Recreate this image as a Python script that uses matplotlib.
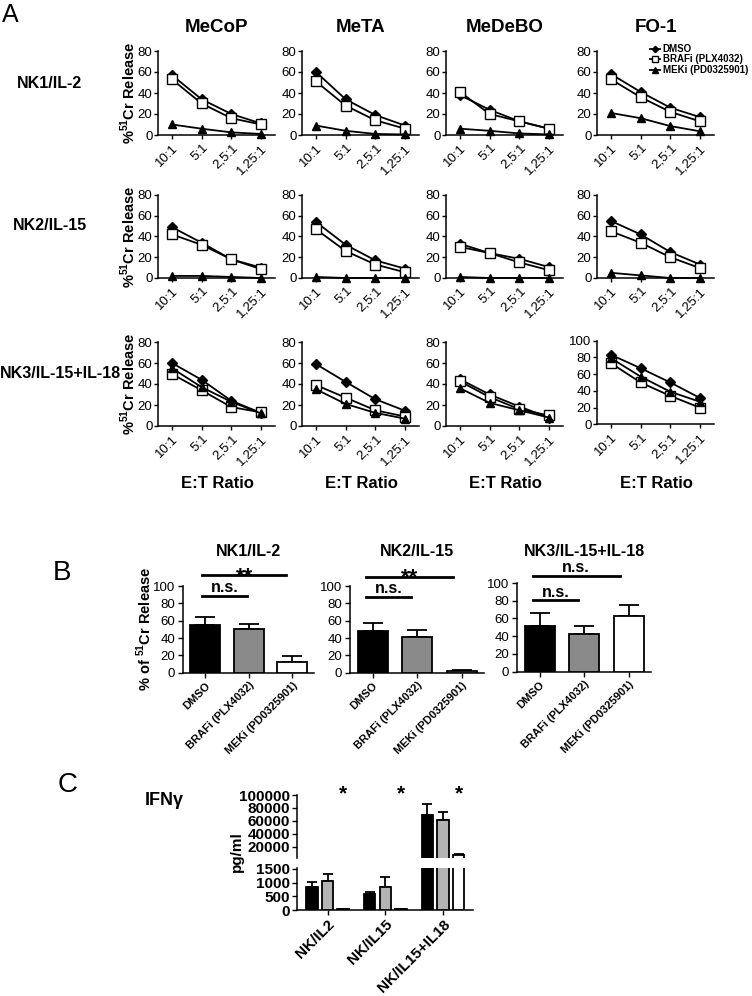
import numpy as np
import matplotlib
matplotlib.use('Agg')
import matplotlib.pyplot as plt

plt.rcParams['font.family'] = ['Liberation Sans', 'DejaVu Sans']
plt.rcParams['mathtext.fontset'] = 'custom'
plt.rcParams['mathtext.rm'] = 'Liberation Sans'
plt.rcParams['mathtext.bf'] = 'Liberation Sans:bold'
plt.rcParams['axes.linewidth'] = 1.1
plt.rcParams['xtick.direction'] = 'out'
plt.rcParams['ytick.direction'] = 'out'

# ---- data ----
ratios = ['10:1', '5:1', '2,5:1', '1,25:1']
cell_lines = ['MeCoP', 'MeTA', 'MeDeBO', 'FO-1']
nk_conditions = ['NK1/IL-2', 'NK2/IL-15', 'NK3/IL-15+IL-18']
treatments = ['DMSO', 'BRAFi (PLX4032)', 'MEKi (PD0325901)']

# panel A, one list per cell line (MeCoP, MeTA, MeDeBO, FO-1)
nk1_dmso = [[57, 34, 20, 11], [60, 34, 19, 9], [38, 24, 13, 6], [58, 41, 26, 17]]
nk1_braf = [[53, 30, 16, 10], [51, 28, 14, 6], [41, 20, 13, 6], [53, 36, 22, 13]]
nk1_mek = [[10, 6, 2.5, 1], [9, 4, 1, 0.5], [6, 4, 1.5, 0.5], [21, 16, 8.5, 3.5]]
nk2_dmso = [[49, 34, 18, 10], [54, 32, 17, 9], [33, 24, 18.5, 10.5], [55, 42, 25, 13]]
nk2_braf = [[42, 32, 18, 8.5], [47, 26, 13, 5.5], [30, 24, 15, 7.5], [45, 34, 20, 9.5]]
nk2_mek = [[2, 2, 1, 0], [1, 0, 0, 0], [1, 0, 0, 0], [5, 2.5, 0, 0]]
nk3_dmso = [[60, 44, 24, 12.5], [59, 42, 25.5, 14.5], [44.5, 30, 18.5, 8], [83, 67, 50, 31.5]]
nk3_braf = [[49.5, 34, 18, 13], [39, 27, 15, 9], [42.5, 27.5, 16, 10], [73, 50, 34, 20]]
nk3_mek = [[55, 37, 23, 12], [35, 21, 12.5, 7], [36, 22, 15, 8], [79, 57, 39, 27]]

# panel B, mean and sem per treatment
nk1_lysis_mean = [54.5, 50.8, 12.3]
nk1_lysis_sem = [10, 5.7, 6.9]
nk2_lysis_mean = [47.7, 41.6, 2]
nk2_lysis_sem = [10, 7.3, 1.5]
nk3_lysis_mean = [51.7, 42.6, 62.3]
nk3_lysis_sem = [15, 9, 13]

# panel C, IFN-gamma pg/ml
ifng_groups = ['NK/IL2', 'NK/IL15', 'NK/IL15+IL18']
ifng_dmso = [830, 575, 69500]
ifng_dmso_sem = [205, 95, 17000]
ifng_braf = [1060, 850, 61500]
ifng_braf_sem = [255, 345, 12200]
ifng_mek = [30, 20, 7500]
ifng_mek_sem = [10, 8, 1000]

W, H = 752, 996
fig = plt.figure(figsize=(W / 100, H / 100), dpi=100)


def rect(l, t, r, b):
    return [l / W, 1 - b / H, (r - l) / W, (b - t) / H]


def ftext(x, y, s, **kw):
    fig.text(x / W, 1 - y / H, s, **kw)


def clean(ax):
    ax.spines['top'].set_visible(False)
    ax.spines['right'].set_visible(False)


# ---- panel A ----
ftext(2, 22, 'A', fontsize=18, va='baseline')
col_left = [158, 302, 446, 597]
row_tb = [(51, 135), (195, 278), (342, 426)]
rows_data = [(nk1_dmso, nk1_braf, nk1_mek), (nk2_dmso, nk2_braf, nk2_mek),
             (nk3_dmso, nk3_braf, nk3_mek)]
x = np.arange(len(ratios))

for r, (top, bot) in enumerate(row_tb):
    dmso, braf, mek = rows_data[r]
    for c, left in enumerate(col_left):
        ymax = 100 if (r == 2 and c == 3) else 80
        shift = 1.5 if ymax == 100 else 0
        ax = fig.add_axes(rect(left, top - shift, left + 117, bot - shift))
        clean(ax)
        ax.plot(x, dmso[c], color='black', lw=1.3, marker='D', ms=5,
                mfc='black', mec='black', clip_on=False, zorder=3, label=treatments[0])
        ax.plot(x, braf[c], color='black', lw=1.3, marker='s', ms=6.5,
                mfc='white', mec='black', mew=1, clip_on=False, zorder=4, label=treatments[1])
        ax.plot(x, mek[c], color='black', lw=1.3, marker='^', ms=6,
                mfc='black', mec='black', clip_on=False, zorder=5, label=treatments[2])
        ax.set_xlim(-0.47, 3.47)
        ax.set_ylim(0, ymax)
        ax.set_yticks(np.arange(0, ymax + 1, 20))
        ax.set_xticks(x)
        ax.set_xticklabels(ratios, rotation=45, ha='right', rotation_mode='anchor')
        ax.tick_params(labelsize=9.5, length=3, width=1)
        ax.tick_params(axis='y', pad=1)
        ax.tick_params(axis='x', pad=2)
        if c == 0:
            ax.set_ylabel(r'%$^{\mathbf{51}}$Cr Release', fontsize=10.5, fontweight='bold')
            ax.yaxis.set_label_coords(-0.175, 0.5)
        if r == 0:
            ftext(left + 59, 27, cell_lines[c], fontsize=13.5, fontweight='bold',
                  ha='center', va='center')
        if r == 2:
            ftext(left + 59, 483, 'E:T Ratio', fontsize=12, fontweight='bold',
                  ha='center', va='center')
        if r == 0 and c == 3:
            handles, labels = ax.get_legend_handles_labels()
            fig.legend(handles, labels, loc='upper left', bbox_to_anchor=(650 / W, 1 - 44 / H),
                       frameon=False, handlelength=1.0, handletextpad=0.3, labelspacing=0.05,
                       borderpad=0, borderaxespad=0, markerscale=0.65,
                       prop={'weight': 'bold', 'size': 7})

ftext(50, 83, nk_conditions[0], fontsize=11.5, fontweight='bold', ha='center', va='center')
ftext(50, 226, nk_conditions[1], fontsize=11.5, fontweight='bold', ha='center', va='center')
ftext(0, 374, nk_conditions[2], fontsize=11.5, fontweight='bold', ha='left', va='center')

# ---- panel B ----
ftext(53, 580, 'B', fontsize=20, va='baseline')
bar_colors = ['black', '#8a8a8a', 'white']
b_axes = [(183, 586, 314, 672.7), (350, 586, 484, 672.7), (517, 583, 651, 671.7)]
b_means = [nk1_lysis_mean, nk2_lysis_mean, nk3_lysis_mean]
b_sems = [nk1_lysis_sem, nk2_lysis_sem, nk3_lysis_sem]
b_titles = ['NK1/IL-2', 'NK2/IL-15', 'NK3/IL-15+IL-18']
# (x0, x_ns_end, x_big_end, y_ns, y_ns_text, y_big, y_big_text, big_label, big_size)
b_sig = [(-0.07, 0.95, 1.86, 88.8, 93.4, 112.7, 104, '**', 16),
         (-0.15, 0.85, 1.8, 87.3, 92.3, 110.7, 103, '**', 16),
         (-0.16, 0.86, 1.8, 80.4, 84.5, 107.5, 112.5, 'n.s.', 11.5)]
xb = np.arange(3)
for i, (l, t, r, b) in enumerate(b_axes):
    ax = fig.add_axes(rect(l, t, r, b))
    clean(ax)
    ax.bar(xb, b_means[i], width=0.68, color=bar_colors, edgecolor='black', linewidth=1.3, zorder=3)
    ax.errorbar(xb, b_means[i], yerr=[np.zeros(3), b_sems[i]], fmt='none', ecolor='black',
                elinewidth=1.3, capsize=7, capthick=1.3, zorder=2)
    ax.set_xlim(-0.51, 2.5)
    ax.set_ylim(0, 100)
    ax.set_yticks(np.arange(0, 101, 20))
    ax.set_xticks(xb)
    ax.set_xticklabels(treatments, rotation=45, ha='right', rotation_mode='anchor',
                       fontsize=8, fontweight='bold')
    ax.tick_params(axis='y', labelsize=9.5)
    ax.tick_params(length=3.5, width=1, pad=2)
    x0, xns, xbig, yns, ynst, ybig, ybigt, lab, lsize = b_sig[i]
    ax.plot([x0, xns], [yns, yns], color='black', lw=2, clip_on=False)
    ax.text((x0 + xns) / 2, ynst, 'n.s.', fontsize=11.5, fontweight='bold', ha='center', va='baseline')
    ax.plot([x0, xbig], [ybig, ybig], color='black', lw=2, clip_on=False)
    ax.text((x0 + xbig) / 2, ybigt, lab, fontsize=lsize, fontweight='bold', ha='center', va='baseline')
    ftext((l + r) / 2, 552, b_titles[i], fontsize=11.5, fontweight='bold', ha='center', va='center')
    if i == 0:
        ax.set_ylabel(r'% of $^{\mathbf{51}}$Cr Release', fontsize=10.5, fontweight='bold')
        ax.yaxis.set_label_coords(-0.22, 0.5)

# ---- panel C ----
ftext(58, 792, 'C', fontsize=20, va='baseline')
ftext(145, 805, 'IFNγ', fontsize=13, fontweight='bold', ha='left', va='baseline')
ftext(237, 852, 'pg/ml', fontsize=11, fontweight='bold', ha='center', va='center', rotation=90)

ax_up = fig.add_axes(rect(297, 795, 473, 858))
ax_lo = fig.add_axes(rect(297, 868, 473, 910))
up_bottom = 3000
xg = np.arange(3)
offsets = [-0.27, 0, 0.27]
c_colors = ['black', '#b4b4b4', 'white']
c_vals = [ifng_dmso, ifng_braf, ifng_mek]
c_sems = [ifng_dmso_sem, ifng_braf_sem, ifng_mek_sem]
for ax in (ax_up, ax_lo):
    clean(ax)
    for k in range(3):
        vals = np.array(c_vals[k], dtype=float)
        sems = np.array(c_sems[k], dtype=float)
        ax.bar(xg + offsets[k], vals, width=0.2, color=c_colors[k], edgecolor='black',
               linewidth=1.3, zorder=3)
        keep = vals > up_bottom if ax is ax_up else np.ones(3, bool)
        ax.errorbar((xg + offsets[k])[keep], vals[keep], yerr=[np.zeros(keep.sum()), sems[keep]],
                    fmt='none', ecolor='black', elinewidth=1.3, capsize=3.5, capthick=1.3, zorder=2)
    ax.set_xlim(-0.53, 2.52)
    ax.tick_params(length=3.5, width=1, pad=1.5)

ax_up.set_ylim(up_bottom, 100000)
ax_up.set_yticks([20000, 40000, 60000, 80000, 100000])
ax_up.set_yticklabels(['20000', '40000', '60000', '80000', '100000'], fontsize=11, fontweight='bold')
ax_up.spines['bottom'].set_visible(False)
ax_up.set_xticks([])
ax_lo.set_ylim(0, 1530)
ax_lo.set_yticks([0, 500, 1000, 1500])
ax_lo.set_yticklabels(['0', '500', '1000', '1500'], fontsize=11, fontweight='bold')
ax_lo.set_xticks(xg)
ax_lo.set_xticklabels(ifng_groups, rotation=45, ha='right', rotation_mode='anchor',
                      fontsize=11, fontweight='bold')
for g in xg:
    ax_up.text(g + offsets[2], 93000, '*', fontsize=15, fontweight='bold', ha='center',
               va='baseline', clip_on=False)

fig.savefig('out.png', dpi=100)
